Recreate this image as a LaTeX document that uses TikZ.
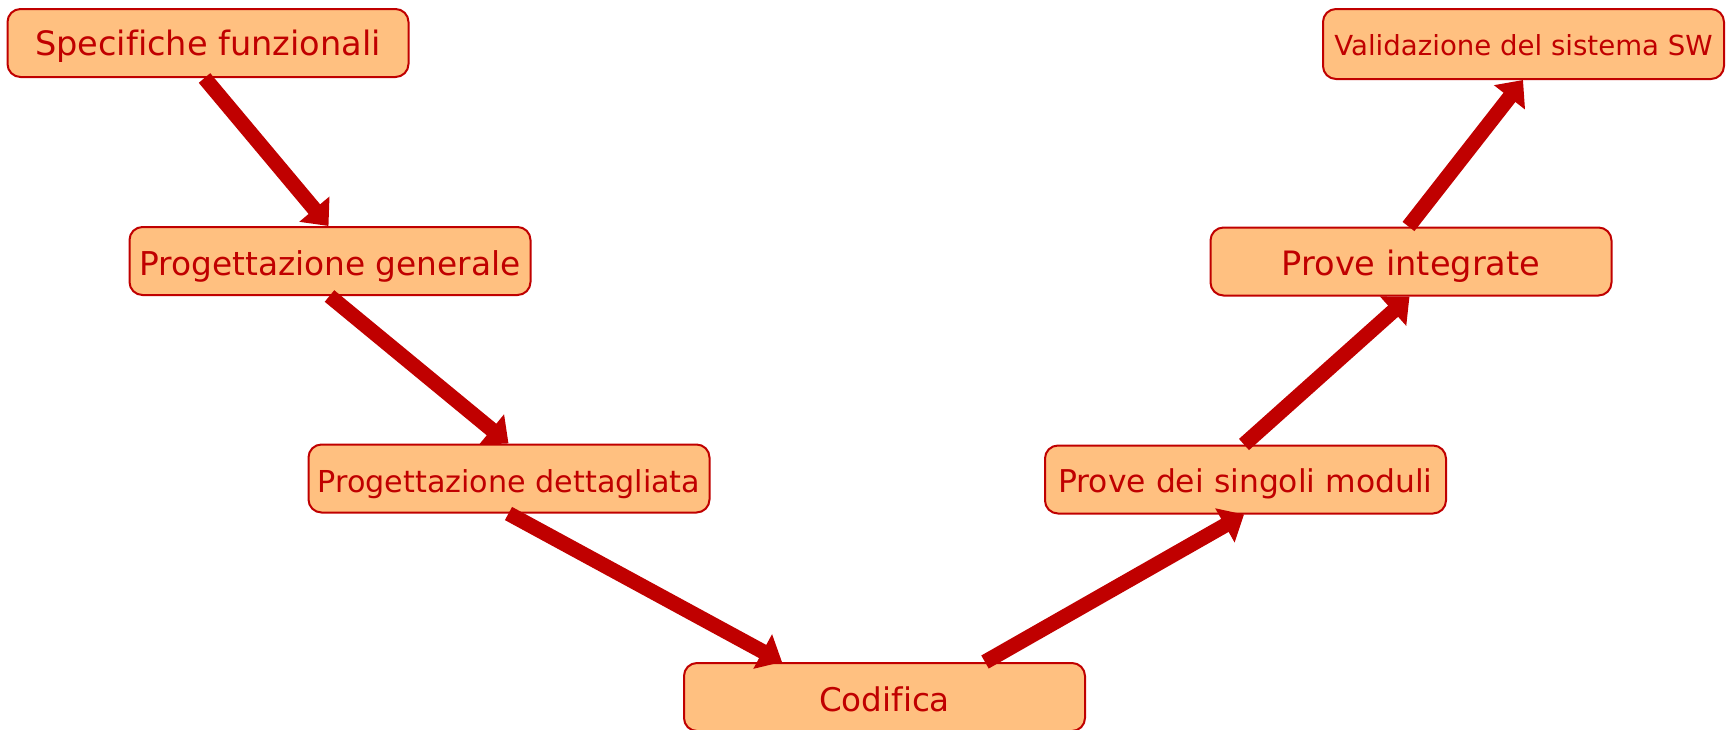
\documentclass[tikz,border=0pt]{standalone}
\usepackage{fontspec}
\setmainfont[Ligatures=NoCommon]{DejaVu Sans}
\usetikzlibrary{arrows.meta,calc}
\definecolor{boxfill}{RGB}{255,192,128}
\definecolor{darkred}{RGB}{192,0,0}
\begin{document}
\begin{tikzpicture}[x=0.5pt,y=-0.5pt,
  phase/.style={draw=darkred, line width=1pt, fill=boxfill, rounded corners=6.5pt,
    minimum width=200.5pt, minimum height=34pt, inner sep=0pt, text=darkred, anchor=center,
    text depth=0pt},
  arr/.style={draw=darkred, line width=7.5pt, -{Triangle[length=11pt,width=19pt]}}]
\useasboundingbox (0,0) rectangle (1726,729);
\node[phase, text height=12pt, font=\fontsize{16.8pt}{20pt}\selectfont] (n1) at (208,43) {Specifiche funzionali};
\node[phase, text height=11pt, font=\fontsize{13.8pt}{16pt}\selectfont, minimum height=35pt] (n2) at (1523.5,44) {Validazione del sistema SW};
\node[phase, text height=14pt, font=\fontsize{16.4pt}{20pt}\selectfont] (n3) at (330,261) {Progettazione generale};
\node[phase, text height=13.5pt, font=\fontsize{15.1pt}{18pt}\selectfont] (n4) at (509,478.5) {Progettazione dettagliata};
\node[phase, text height=14pt, font=\fontsize{16.3pt}{20pt}\selectfont] (n5) at (884.5,697) {Codifica};
\node[phase, text height=13pt, font=\fontsize{15.7pt}{19pt}\selectfont] (n6) at (1245.5,479.5) {Prove dei singoli moduli};
\node[phase, text height=14pt, font=\fontsize{16.8pt}{20pt}\selectfont] (n7) at (1411,261.5) {Prove integrate};
\draw[arr] ($(n1.south west)+(198,0)$) -- ($(n3.north west)+(200,0)$);
\draw[arr] ($(n3.south west)+(201,0)$) -- ($(n4.north west)+(201,0)$);
\draw[arr] ($(n4.south west)+(201,0)$) -- ($(n5.north west)+(99,0)$);
\draw[arr] ($(n5.north west)+(302,0)$) -- ($(n6.south west)+(200,0)$);
\draw[arr] ($(n6.north west)+(200,0)$) -- ($(n7.south west)+(200,0)$);
\draw[arr] ($(n7.north west)+(199,0)$) -- ($(n2.south west)+(201,0)$);
\end{tikzpicture}
\end{document}
